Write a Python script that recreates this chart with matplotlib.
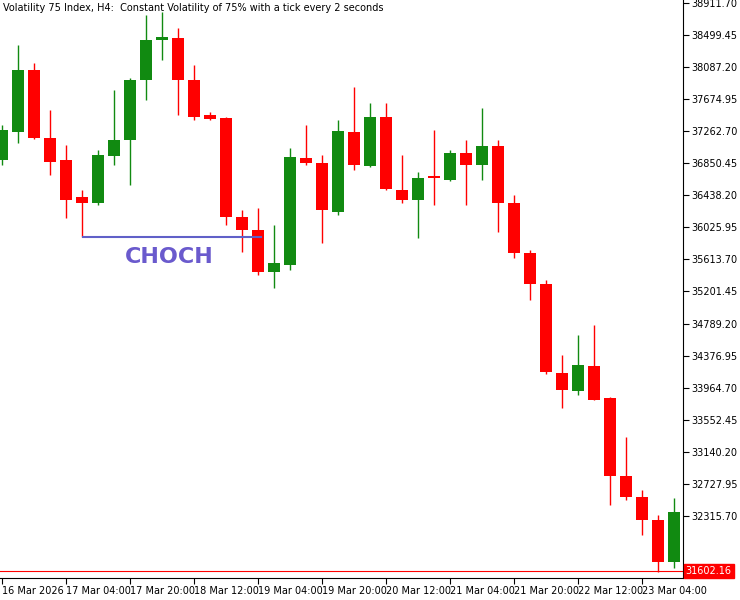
import numpy as np
import matplotlib.pyplot as plt
from matplotlib.patches import Rectangle

# OHLC per H4 candle
opens  = [36892, 37253, 38050, 37175, 36892, 36417, 36340, 36944, 37150, 37921,
          38436, 38461, 37921, 37471, 37432, 36160, 35992, 35452, 35542, 36918,
          36854, 36224, 37253, 36815, 37445, 36507, 36378, 36687, 36635, 36982,
          36828, 37073, 36340, 35697, 35298, 34153, 33922, 34243, 33832, 32829,
          32559, 32263, 31723]
highs  = [37343, 38371, 38140, 37535, 37085, 36507, 37021, 37793, 37947, 38757,
          38800, 38590, 38114, 37510, 37440, 36250, 36275, 36057, 37047, 37343,
          36957, 37407, 37831, 37625, 37625, 36957, 36738, 37278, 37021, 37150,
          37561, 37150, 36442, 35735, 35349, 34385, 34642, 34771, 33840, 33330,
          32649, 32327, 32546]
lows   = [36828, 37111, 37160, 36700, 36147, 35902, 36314, 36828, 36571, 37664,
          38178, 37471, 37407, 37407, 36057, 35709, 35414, 35246, 35478, 36828,
          35825, 36185, 36764, 36802, 36507, 36340, 35889, 36314, 36620, 36314,
          36635, 35967, 35632, 35092, 34140, 33703, 33870, 33806, 32456, 32520,
          32070, 31594, 31645]
closes = [37278, 38050, 37175, 36867, 36378, 36340, 36957, 37150, 37921, 38436,
          38474, 37921, 37445, 37420, 36160, 35992, 35452, 35568, 36931, 36854,
          36250, 37265, 36828, 37445, 36520, 36378, 36661, 36661, 36982, 36828,
          37073, 36340, 35697, 35298, 34160, 33935, 34256, 33810, 32829, 32559,
          32263, 31723, 32366]

date_labels = ["16 Mar 2026", "17 Mar 04:00", "17 Mar 20:00", "18 Mar 12:00",
               "19 Mar 04:00", "19 Mar 20:00", "20 Mar 12:00", "21 Mar 04:00",
               "21 Mar 20:00", "22 Mar 12:00", "23 Mar 04:00"]
date_idx = list(range(0, 41, 4))
price_ticks = [38911.70 - 412.25 * k for k in range(17)]
last_price = 31602.16
choch_level = 35902
choch_from, choch_to = 5, 16.25

green = "#118a11"
red = "#ff0000"

fig = plt.figure(figsize=(7.4, 6), dpi=100)
ax = fig.add_axes([0, 22 / 600, 683 / 740, 578 / 600])

for i, (o, h, l, c) in enumerate(zip(opens, highs, lows, closes)):
    col = green if c >= o else red
    ax.vlines(i, l, h, color=col, lw=1)
    lo, hi = min(o, c), max(o, c)
    ax.add_patch(Rectangle((i - 0.35, lo), 0.7, max(hi - lo, 25), color=col, lw=0))

ax.hlines(choch_level, choch_from, choch_to, color="#6060c8", lw=1.5)
ax.text((choch_from + choch_to) / 2 - 0.2, choch_level - 130, "CHOCH", color="#6a5acd",
        fontsize=16, fontweight="bold", ha="center", va="top")

ax.axhline(last_price, color=red, lw=0.8)

ax.set_xlim(-0.125, 42.56)
ax.set_ylim(31517, 38950)

ax.yaxis.tick_right()
ax.set_yticks(price_ticks)
ax.set_yticklabels([f"{p:.2f}" for p in price_ticks], fontsize=7)
ax.set_xticks(date_idx)
ax.set_xticklabels(date_labels, fontsize=7, ha="left")
ax.tick_params(axis="x", length=4, pad=2)
ax.tick_params(axis="y", length=4, pad=2)
ax.spines["top"].set_visible(False)
ax.spines["left"].set_visible(False)

ax.text(last_price and 1.004, last_price, f"{last_price:.2f}", transform=ax.get_yaxis_transform(),
        fontsize=7, color="white", va="center", ha="left",
        bbox=dict(boxstyle="square,pad=0.2", fc=red, ec=red))

ax.text(0.005, 0.995, "Volatility 75 Index, H4:  Constant Volatility of 75% with a tick every 2 seconds",
        transform=ax.transAxes, fontsize=7, va="top", ha="left")

fig.savefig("out.png", dpi=100)
